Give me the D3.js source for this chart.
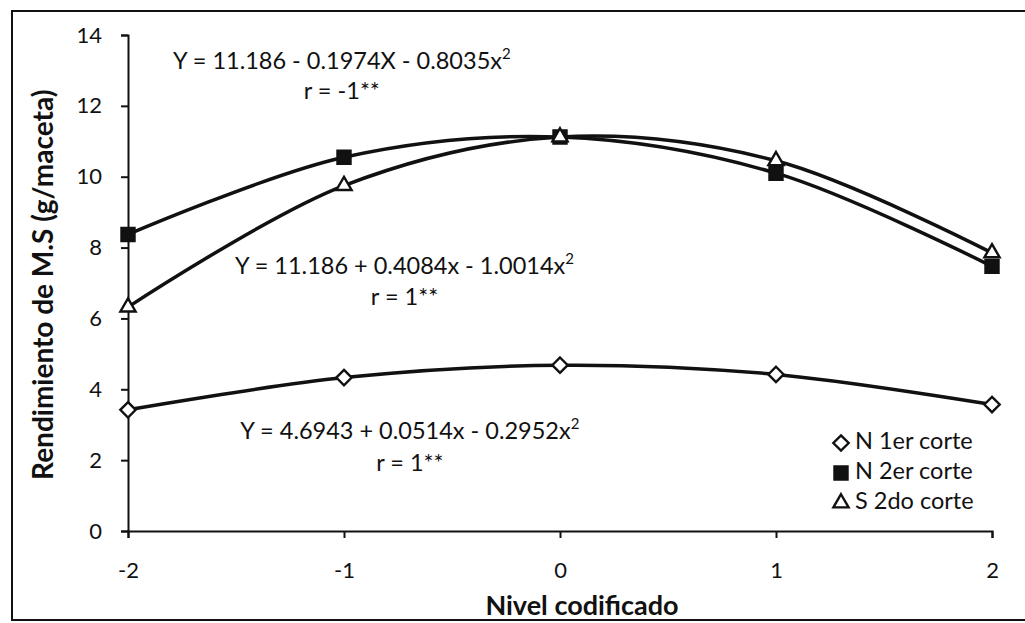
<!DOCTYPE html>
<html><head><meta charset="utf-8">
<script src="https://cdn.jsdelivr.net/npm/d3@7/dist/d3.min.js"></script>
<style>
html,body{margin:0;padding:0;background:#fff;}
svg text{font-family:Lato,"Open Sans",sans-serif;fill:#111;}
</style></head>
<body><svg id="c" width="1025" height="623"></svg>
<script>
const levels = [-2, -1, 0, 1, 2];
const n1 = [3.42, 4.33, 4.68, 4.42, 3.57];
const n2 = [8.37, 10.55, 11.12, 10.1, 7.47];
const s2 = [6.32, 9.75, 11.12, 10.45, 7.85];
const seriesNames = ["N 1er corte", "N 2er corte", "S 2do corte"];
const yTicks = [0, 2, 4, 6, 8, 10, 12, 14];
const xTicks = [-2, -1, 0, 1, 2];
const equations = [
  {t: "Y = 11.186 - 0.1974X - 0.8035x", r: "r = -1**", x: -1.01, y: 13.2, ry: 12.35},
  {t: "Y = 11.186 + 0.4084x - 1.0014x", r: "r = 1**", x: -0.72, y: 7.42, ry: 6.55},
  {t: "Y = 4.6943 + 0.0514x - 0.2952x", r: "r = 1**", x: -0.695, y: 2.78, ry: 1.87}
];

const svg = d3.select("#c");
const x = d3.scaleLinear().domain([-2, 2]).range([128, 992]);
const y = d3.scaleLinear().domain([0, 14]).range([531, 35]);

// outer frame
svg.append("rect").attr("x", 12).attr("y", 11).attr("width", 1030).attr("height", 609)
  .attr("fill", "none").attr("stroke", "#111").attr("stroke-width", 2);

// axes
const ya = svg.append("g").attr("transform", `translate(${x(-2)},0)`)
  .call(d3.axisLeft(y).tickValues(yTicks).tickSize(7).tickPadding(19));
const xa = svg.append("g").attr("transform", `translate(0,${y(0)})`)
  .call(d3.axisBottom(x).tickValues(xTicks).tickSize(7).tickPadding(24).tickFormat(d3.format("d")));
[ya, xa].forEach(g => {
  g.select(".domain").attr("stroke", "#111").attr("stroke-width", 2);
  g.selectAll(".tick line").attr("stroke", "#111").attr("stroke-width", 2);
  g.selectAll(".tick text").attr("font-size", 22).attr("font-family", "Lato").attr("fill", "#111");
});
xa.selectAll(".tick text").text(d => d < 0 ? "-" + Math.abs(d) : d);

// axis titles
svg.append("text").attr("transform", `translate(53,${y(6.95)}) rotate(-90)`)
  .attr("text-anchor", "middle")
  .attr("font-size", 28).attr("font-weight", "bold").text("Rendimiento de M.S (g/maceta)");
svg.append("text").attr("x", 582).attr("y", 615)
  .attr("text-anchor", "middle")
  .attr("font-size", 27).attr("font-weight", "bold").text("Nivel codificado");

// lines
const line = d3.line().x((d, i) => x(levels[i])).y(d => y(d)).curve(d3.curveCatmullRom.alpha(0.5));
const data = [n1, n2, s2];
data.forEach(vals => {
  svg.append("path").attr("d", line(vals)).attr("fill", "none")
    .attr("stroke", "#111").attr("stroke-width", 3.5);
});

const sym = [d3.symbolDiamond2, d3.symbolSquare, d3.symbolTriangle];
const fills = ["#fff", "#111", "#fff"];
const sizes = [150, 170, 100];
function marker(g, i, cx, cy) {
  g.append("path").attr("d", d3.symbol(sym[i], sizes[i])())
    .attr("transform", `translate(${cx},${cy})`)
    .attr("fill", fills[i]).attr("stroke", "#111").attr("stroke-width", 2.4);
}
// draw order: square, triangle, diamond
[1, 2, 0].forEach(i => {
  data[i].forEach((v, j) => marker(svg, i, x(levels[j]), y(v)));
});

// equations
equations.forEach(e => {
  const t = svg.append("text").attr("x", x(e.x)).attr("y", y(e.y)).attr("text-anchor", "middle")
    .attr("dominant-baseline", "middle").attr("font-size", 23.5);
  t.append("tspan").text(e.t);
  t.append("tspan").attr("font-size", 15).attr("dy", -8).text("2");
  svg.append("text").attr("x", x(e.x)).attr("y", y(e.ry)).attr("text-anchor", "middle")
    .attr("dominant-baseline", "middle").attr("font-size", 23.5).text(e.r);
});

// legend
const lg = svg.append("g");
seriesNames.forEach((nm, i) => {
  const ly = 443 + i * 30;
  marker(lg, i, 841, ly);
  lg.append("text").attr("x", 855).attr("y", ly).attr("dominant-baseline", "middle")
    .attr("font-size", 23.5).text(nm);
});
</script></body></html>
